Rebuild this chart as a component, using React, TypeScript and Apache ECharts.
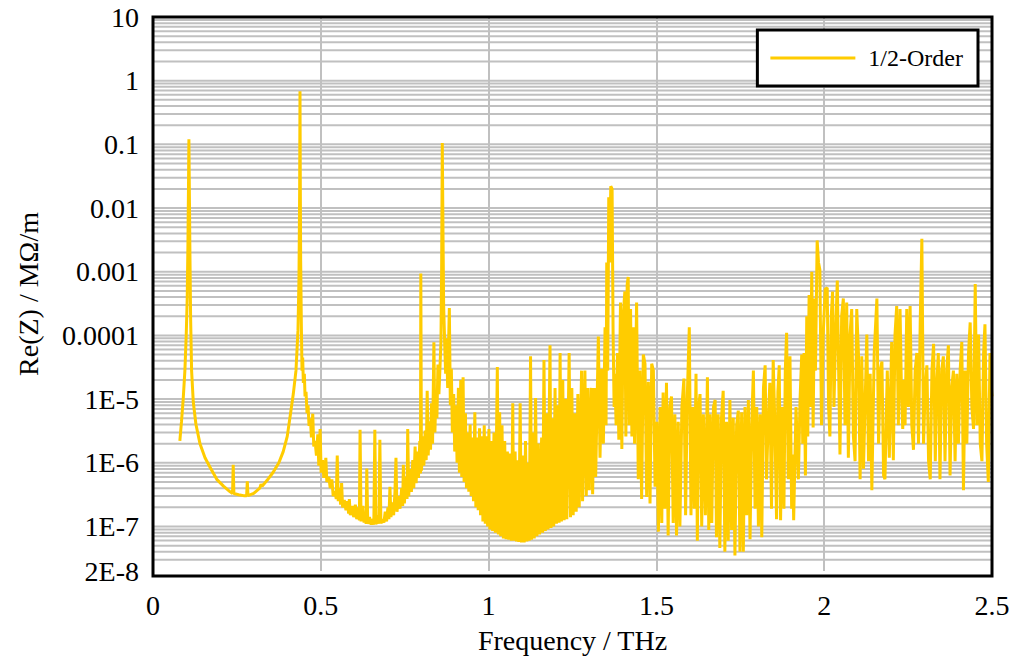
import React, { useEffect, useRef } from "react";
import * as echarts from "echarts";

const FONT = "Liberation Serif, Times New Roman, serif";
const LINE_COLOR = "#ffcc00";
const GRID_COLOR = "#c0c0c0";

const seriesName = "1/2-Order";
const xTicks = [0, 0.5, 1, 1.5, 2, 2.5];
const yDecades = [1e-7, 1e-6, 1e-5, 1e-4, 1e-3, 1e-2, 1e-1, 1];
const yMantissas = [2, 3, 4, 5, 6, 7, 8, 9];

// first two resonances (smooth)
const segA: number[][] = [
  [0.080, 2.2e-6], [0.085, 4.5e-6], [0.090, 1.0e-5], [0.095, 2.8e-5], [0.099, 1.0e-4],
  [0.102, 4.0e-4], [0.104, 2.5e-3], [0.106, 0.03], [0.107, 0.12], [0.108, 0.03],
  [0.110, 2.0e-3], [0.112, 2.0e-4], [0.115, 2.8e-5], [0.120, 9.0e-6], [0.128, 4.0e-6],
  [0.140, 2.0e-6], [0.155, 1.2e-6], [0.170, 8.5e-7], [0.190, 5.5e-7], [0.210, 4.3e-7],
  [0.230, 3.5e-7], [0.237, 3.3e-7], [0.239, 9.3e-7], [0.241, 3.3e-7], [0.255, 3.15e-7],
  [0.270, 3.05e-7], [0.279, 3.05e-7], [0.281, 5.1e-7], [0.283, 3.05e-7], [0.300, 3.3e-7],
  [0.318, 4.0e-7], [0.322, 4.6e-7], [0.325, 4.3e-7], [0.340, 5.3e-7], [0.358, 7.1e-7],
  [0.375, 1.0e-6], [0.388, 1.5e-6], [0.400, 2.6e-6], [0.408, 5.1e-6], [0.418, 1.2e-5],
  [0.426, 2.8e-5], [0.432, 1.2e-4], [0.435, 8e-4], [0.437, 0.02], [0.438, 0.68],
];

// 0.44 - 0.86 THz
const segB: number[][] = [
  [0.439, 0.02], [0.440, 1.5e-3], [0.442, 1.5e-4], [0.444, 2.8e-5], [0.446, 4.5e-5],
  [0.448, 1.8e-5], [0.451, 2.5e-5], [0.453, 1.1e-5], [0.456, 1.3e-5], [0.459, 6e-6],
  [0.462, 8e-6], [0.465, 3.8e-6], [0.469, 5e-6], [0.472, 2.5e-6], [0.476, 5.9e-6],
  [0.479, 1.8e-6], [0.483, 2.2e-6], [0.487, 1.3e-6], [0.491, 2.8e-6], [0.494, 9e-7],
  [0.498, 3.4e-6], [0.501, 7e-7], [0.505, 1.1e-6], [0.509, 5.8e-7], [0.512, 7.5e-7],
  [0.515, 1.2e-6], [0.518, 5e-7], [0.524, 6e-7], [0.528, 4e-7], [0.533, 5.5e-7],
  [0.537, 3e-7], [0.542, 3.6e-7], [0.546, 2.7e-7], [0.549, 1.3e-6], [0.552, 2.5e-7],
  [0.556, 4e-7], [0.559, 2.2e-7], [0.562, 4.8e-7], [0.565, 2.0e-7], [0.570, 2.6e-7],
  [0.575, 1.8e-7], [0.579, 2.5e-7], [0.583, 1.6e-7], [0.585, 2.7e-7], [0.588, 1.5e-7],
  [0.594, 2.1e-7], [0.598, 1.4e-7], [0.603, 2.2e-7], [0.607, 1.3e-7], [0.612, 2e-7],
  [0.615, 1.25e-7], [0.617, 3.3e-6], [0.620, 1.2e-7], [0.625, 2.1e-7], [0.629, 1.15e-7],
  [0.633, 1.6e-7], [0.635, 1.1e-7], [0.637, 8.1e-7], [0.640, 1.1e-7], [0.645, 1.4e-7],
  [0.650, 1.07e-7], [0.655, 1.3e-7], [0.658, 1.07e-7], [0.661, 3.3e-6], [0.664, 1.08e-7],
  [0.669, 1.5e-7], [0.673, 1.1e-7], [0.676, 2.3e-6], [0.679, 1.12e-7], [0.684, 1.3e-7],
  [0.688, 1.15e-7], [0.692, 1.7e-7], [0.696, 1.2e-7], [0.700, 2.0e-7], [0.703, 1.3e-7],
  [0.706, 4.2e-7], [0.709, 1.4e-7], [0.713, 2.4e-7], [0.717, 1.5e-7], [0.721, 3.5e-7],
  [0.724, 1.2e-6], [0.727, 1.7e-7], [0.732, 3e-7], [0.736, 1.9e-7], [0.741, 4e-7],
  [0.744, 2.1e-7], [0.746, 9.3e-7], [0.749, 2.3e-7], [0.754, 6e-7], [0.757, 2.7e-7],
  [0.759, 3.4e-6], [0.762, 3e-7], [0.766, 8e-7], [0.770, 3.5e-7], [0.774, 1.1e-6],
  [0.777, 4e-7], [0.781, 1.8e-6], [0.784, 4.8e-7], [0.788, 1.5e-6], [0.791, 5.8e-7],
  [0.795, 2.2e-6], [0.797, 6.8e-7], [0.798, 9.4e-4], [0.800, 7.5e-7], [0.804, 2.6e-6],
  [0.807, 9e-7], [0.811, 3.2e-6], [0.814, 1.1e-6], [0.817, 1.35e-5], [0.820, 1.3e-6],
  [0.824, 4.5e-6], [0.827, 1.6e-6], [0.830, 8.6e-6], [0.833, 2e-6], [0.837, 7.8e-5],
  [0.840, 3e-6], [0.843, 1.3e-5], [0.846, 5e-6], [0.849, 3.5e-5], [0.852, 1.2e-5],
  [0.855, 3e-5], [0.858, 8e-5], [0.860, 1e-3], [0.862, 0.105],
];

// 0.86 - 1.34 THz
const segC: number[][] = [
  [0.864, 5e-3], [0.866, 3e-4], [0.869, 8e-5], [0.872, 2.5e-5], [0.875, 9e-5],
  [0.878, 1.5e-5], [0.883, 2.7e-4], [0.886, 8e-6], [0.889, 3e-5], [0.892, 3e-6],
  [0.896, 1.2e-5], [0.899, 1.5e-6], [0.903, 8e-6], [0.906, 1e-6], [0.910, 1.5e-5],
  [0.913, 7e-7], [0.917, 2e-5], [0.920, 6e-7], [0.924, 2.2e-5], [0.927, 5e-7],
  [0.931, 6e-6], [0.934, 4e-7], [0.938, 3e-6], [0.941, 3.5e-7], [0.945, 4e-6],
  [0.948, 3e-7], [0.952, 2.5e-6], [0.955, 2.5e-7], [0.959, 6.2e-6], [0.962, 2e-7],
  [0.966, 2.5e-6], [0.969, 1.8e-7], [0.973, 3.5e-6], [0.976, 1.5e-7], [0.980, 2.6e-6],
  [0.983, 1.2e-7], [0.987, 3.9e-6], [0.990, 1.1e-7], [0.994, 2.6e-6], [0.997, 1e-7],
  [1.001, 3.4e-6], [1.004, 9e-8], [1.008, 2.2e-6], [1.012, 8.5e-8], [1.016, 3e-6],
  [1.020, 8e-8], [1.026, 3.2e-5], [1.029, 7.5e-8], [1.033, 6.2e-6], [1.036, 7e-8],
  [1.040, 3.9e-6], [1.044, 6.5e-8], [1.048, 2.2e-6], [1.052, 6.3e-8], [1.056, 1.5e-6],
  [1.060, 6.2e-8], [1.065, 1.4e-6], [1.068, 6e-8], [1.072, 8.6e-6], [1.075, 6e-8],
  [1.079, 1.5e-6], [1.083, 5.8e-8], [1.087, 1.1e-6], [1.090, 5.7e-8], [1.094, 8.6e-6],
  [1.098, 5.6e-8], [1.102, 1.3e-6], [1.106, 5.6e-8], [1.110, 2.2e-6], [1.114, 5.8e-8],
  [1.118, 1e-6], [1.121, 6e-8], [1.125, 4.7e-5], [1.128, 6.2e-8], [1.132, 3e-6],
  [1.136, 6.5e-8], [1.140, 1.04e-5], [1.144, 7e-8], [1.148, 2e-6], [1.152, 7.5e-8],
  [1.158, 2.5e-6], [1.161, 8e-8], [1.165, 4.1e-5], [1.169, 8.5e-8], [1.173, 6e-6],
  [1.177, 9e-8], [1.183, 7e-5], [1.186, 9.5e-8], [1.190, 5e-6], [1.194, 1e-7],
  [1.198, 1.5e-5], [1.202, 1.1e-7], [1.207, 8e-6], [1.210, 1.15e-7], [1.213, 5.3e-5],
  [1.217, 1.2e-7], [1.221, 2e-5], [1.225, 1.25e-7], [1.229, 1e-5], [1.233, 1.3e-7],
  [1.240, 5.3e-5], [1.244, 1.4e-7], [1.248, 1.5e-5], [1.252, 1.5e-7], [1.257, 6e-6],
  [1.261, 1.7e-7], [1.266, 1.2e-5], [1.270, 2e-7], [1.277, 2.8e-5], [1.280, 2.5e-7],
  [1.287, 2.8e-5], [1.291, 3e-7], [1.296, 1.5e-5], [1.300, 3.7e-7], [1.306, 1.5e-5],
  [1.310, 3.2e-7], [1.315, 1.5e-5], [1.319, 6e-7], [1.327, 9.6e-5], [1.332, 1.2e-6],
  [1.337, 3e-5],
];

// 1.34 - 1.75 THz (main high-frequency resonance)
const segD: number[][] = [
  [1.342, 2e-6], [1.347, 1.34e-4], [1.350, 3.9e-6], [1.352, 1.4e-3], [1.355, 2.8e-5],
  [1.358, 0.0148], [1.361, 1.4e-3], [1.364, 0.022], [1.368, 0.02], [1.371, 1.03e-4],
  [1.374, 7.5e-6], [1.376, 2.5e-5], [1.380, 3.9e-6], [1.384, 5.3e-5], [1.388, 2.3e-6],
  [1.393, 3.3e-4], [1.397, 1.65e-6], [1.401, 2e-4], [1.406, 4.9e-4], [1.409, 2.6e-6],
  [1.413, 6.4e-4], [1.416, 8.3e-4], [1.419, 3.9e-6], [1.423, 2.6e-4], [1.427, 2.6e-6],
  [1.431, 1.34e-4], [1.435, 2e-6], [1.441, 3.3e-4], [1.446, 5.5e-7], [1.451, 2.8e-5],
  [1.456, 2.7e-7], [1.461, 5e-5], [1.466, 3.6e-5], [1.471, 2.9e-7], [1.476, 1.88e-5],
  [1.481, 2.3e-7], [1.486, 3.6e-5], [1.491, 2.8e-5], [1.496, 4.2e-7], [1.501, 4.4e-6],
  [1.506, 8.3e-8], [1.511, 7.5e-6], [1.516, 1.14e-7], [1.520, 1.27e-5], [1.525, 1.9e-7],
  [1.530, 1.8e-5], [1.535, 7.2e-8], [1.540, 7.5e-6], [1.545, 1.1e-5], [1.550, 1.14e-7],
  [1.555, 5.8e-6], [1.560, 7.2e-8], [1.565, 4.4e-6], [1.570, 1e-7], [1.576, 7.5e-6],
  [1.582, 2.1e-5], [1.587, 1.5e-7], [1.592, 1.1e-5], [1.598, 1.34e-4], [1.603, 1.5e-7],
  [1.608, 7.5e-6], [1.613, 1.9e-7], [1.618, 2.5e-5], [1.622, 6e-8], [1.626, 7.5e-6],
  [1.630, 1.2e-5], [1.635, 1e-7], [1.640, 5.8e-6], [1.646, 1.5e-7], [1.652, 2.2e-5],
  [1.656, 8.8e-8], [1.660, 5.8e-6], [1.665, 1.14e-7], [1.670, 7.5e-6], [1.675, 9.7e-6],
  [1.679, 6.8e-8], [1.684, 5.8e-6], [1.689, 4.6e-8], [1.694, 5.1e-6], [1.699, 1.35e-5],
  [1.704, 4e-8], [1.709, 4.4e-6], [1.714, 6e-8], [1.719, 9.7e-6], [1.724, 8.8e-8],
  [1.729, 5.1e-6], [1.734, 3.5e-8], [1.739, 3.9e-6], [1.744, 6.6e-6], [1.749, 4e-8],
];

// 1.75 - 2.5 THz
const segE: number[][] = [
  [1.754, 6.2e-6], [1.759, 4e-8], [1.764, 7.5e-6], [1.769, 1.5e-7], [1.774, 9.7e-6],
  [1.779, 6.3e-8], [1.784, 3.9e-6], [1.789, 2.8e-5], [1.794, 1.9e-7], [1.799, 7.5e-6],
  [1.804, 1e-7], [1.809, 5.8e-6], [1.814, 6.8e-8], [1.819, 1.5e-5], [1.824, 3.4e-5],
  [1.828, 5.5e-7], [1.833, 3.9e-6], [1.838, 1.8e-5], [1.843, 1.9e-7], [1.848, 4.1e-5],
  [1.853, 3.9e-6], [1.858, 1.3e-7], [1.862, 1.3e-5], [1.866, 3.4e-5], [1.870, 1.25e-7],
  [1.875, 7.5e-6], [1.880, 1.9e-7], [1.884, 2.8e-5], [1.888, 1.1e-4], [1.893, 5.5e-7],
  [1.898, 4.7e-5], [1.903, 1.9e-7], [1.906, 1.35e-6], [1.909, 1.25e-7], [1.916, 7.5e-6],
  [1.923, 5.5e-7], [1.928, 9.7e-6], [1.933, 5e-5], [1.936, 2e-6], [1.940, 5.3e-5],
  [1.944, 6.3e-7], [1.948, 2e-4], [1.951, 2.6e-6], [1.955, 4.3e-4], [1.958, 7.5e-6],
  [1.963, 1e-3], [1.967, 3.6e-6], [1.971, 3.8e-4], [1.974, 2.8e-5], [1.979, 3.1e-3],
  [1.983, 1.4e-3], [1.987, 1.08e-3], [1.992, 3.9e-6], [1.997, 1.03e-4], [2.003, 5.3e-4],
  [2.009, 5.6e-4], [2.013, 7.5e-6], [2.017, 2.6e-6], [2.021, 2e-4], [2.025, 4.9e-4],
  [2.029, 7.5e-6], [2.034, 1.03e-4], [2.039, 7.3e-4], [2.043, 2.8e-5], [2.047, 1.35e-6],
  [2.052, 2e-4], [2.057, 3.8e-4], [2.062, 3.9e-6], [2.067, 3.3e-4], [2.072, 1.2e-6],
  [2.077, 1.03e-4], [2.082, 2.6e-4], [2.087, 2.6e-6], [2.092, 1.06e-6], [2.097, 2.6e-4],
  [2.102, 5.3e-5], [2.107, 5.5e-7], [2.112, 4.7e-5], [2.117, 8.1e-7], [2.127, 1.03e-4],
  [2.132, 1.06e-6], [2.137, 2.5e-5], [2.142, 3.7e-7], [2.149, 5.3e-5], [2.157, 3.8e-4],
  [2.162, 2e-6], [2.167, 2.8e-5], [2.172, 3.9e-5], [2.177, 6.3e-7], [2.181, 5.5e-7],
  [2.188, 2.8e-5], [2.194, 1.2e-6], [2.201, 7.9e-5], [2.206, 1.1e-6], [2.211, 1.03e-4],
  [2.216, 2.9e-4], [2.221, 3.9e-6], [2.226, 2.6e-4], [2.230, 1.5e-5], [2.234, 3.4e-6],
  [2.238, 2e-5], [2.241, 3.9e-6], [2.246, 2.6e-4], [2.251, 7.5e-6], [2.256, 2.9e-4],
  [2.261, 3.9e-6], [2.266, 1.6e-6], [2.271, 2.8e-5], [2.276, 5.3e-5], [2.281, 2e-6],
  [2.286, 1.5e-4], [2.291, 3.3e-3], [2.296, 2e-6], [2.301, 1.5e-5], [2.306, 3.4e-5],
  [2.311, 1.06e-6], [2.316, 5.5e-7], [2.321, 2.8e-5], [2.326, 7.4e-5], [2.331, 1.06e-6],
  [2.335, 1.5e-5], [2.340, 5.3e-5], [2.345, 5.5e-7], [2.350, 2.8e-5], [2.355, 4.7e-5],
  [2.360, 1.06e-6], [2.365, 2.8e-5], [2.370, 7e-5], [2.375, 6.3e-7], [2.380, 1.5e-5],
  [2.385, 2.8e-5], [2.390, 1.06e-6], [2.395, 2.5e-5], [2.400, 2e-6], [2.405, 2.8e-5],
  [2.410, 7.9e-5], [2.415, 3.7e-7], [2.420, 2.8e-5], [2.425, 2e-6], [2.430, 5.3e-5],
  [2.435, 1.6e-4], [2.440, 7.5e-6], [2.445, 3.4e-6], [2.450, 6.4e-4], [2.455, 3.9e-6],
  [2.460, 1.03e-4], [2.465, 2e-6], [2.470, 1.06e-6], [2.475, 5.3e-5], [2.479, 1.5e-4],
  [2.484, 2e-6], [2.489, 5e-7], [2.494, 5.3e-5], [2.499, 1.27e-5], [2.500, 1.1e-5],
];

const seriesData = [...segA, ...segB, ...segC, ...segD, ...segE];

// horizontal grid values: decades plus 2..9 multiples (from 3e-8 upward)
const hGridValues: number[] = [];
[1e-8, ...yDecades].forEach((d) => {
  if (d >= 1e-7) hGridValues.push(d);
  yMantissas.forEach((m) => {
    const v = m * d;
    if (v > 2.5e-8 && v < 9.99) hGridValues.push(v);
  });
});

function formatY(v: number): string {
  const e = Math.floor(Math.log10(v) + 1e-9);
  const m = Math.round(v / Math.pow(10, e));
  if (e >= -4) return String(Number((m * Math.pow(10, e)).toPrecision(3)));
  return `${m}E${e}`;
}

export default function App() {
  const ref = useRef<HTMLDivElement>(null);
  useEffect(() => {
    if (!ref.current) return;
    const chart = echarts.init(ref.current, undefined, { renderer: "svg" });
    const gl = 153, gt = 17, gw = 839, gh = 559;
    chart.setOption({
      animation: false,
      backgroundColor: "#ffffff",
      textStyle: { fontFamily: FONT },
      grid: { left: gl, top: gt, width: gw, height: gh, containLabel: false },
      legend: {
        data: [{ name: seriesName, icon: "rect" }],
        right: 35,
        top: 30,
        selectedMode: false,
        itemWidth: 85,
        itemHeight: 3,
        padding: [16, 15, 16, 13],
        borderColor: "#000",
        borderWidth: 3,
        backgroundColor: "#fff",
        itemStyle: { color: LINE_COLOR, borderWidth: 0 },
        textStyle: { fontFamily: FONT, fontSize: 24, color: "#000", padding: [0, 0, 0, 8] },
      },
      xAxis: {
        type: "value",
        min: xTicks[0],
        max: xTicks[xTicks.length - 1],
        interval: 0.5,
        name: "Frequency / THz",
        nameLocation: "middle",
        nameGap: 55,
        nameTextStyle: { fontFamily: FONT, fontSize: 28, color: "#000" },
        axisLine: { show: false },
        axisTick: { show: false },
        axisLabel: { fontFamily: FONT, fontSize: 28, color: "#000", margin: 20 },
        splitLine: {
          show: true,
          showMinLine: false,
          showMaxLine: false,
          lineStyle: { color: GRID_COLOR, width: 2 },
        },
      },
      yAxis: {
        type: "log",
        logBase: 10,
        min: 2e-8,
        max: 10,
        name: "Re(Z) / MΩ/m",
        nameLocation: "middle",
        nameGap: 111,
        nameTextStyle: { fontFamily: FONT, fontSize: 28, color: "#000" },
        axisLine: { show: false },
        axisTick: { show: false },
        axisLabel: { fontFamily: FONT, fontSize: 28, color: "#000", margin: 14, formatter: formatY },
        splitLine: { show: false },
        minorTick: { show: false },
        minorSplitLine: { show: false },
      },
      graphic: [
        {
          type: "rect",
          silent: true,
          z: 100,
          shape: { x: gl, y: gt, width: gw, height: gh },
          style: { fill: "transparent", stroke: "#000", lineWidth: 3 },
        },
      ],
      series: [
        {
          type: "custom",
          name: "grid",
          silent: true,
          z: 1,
          data: hGridValues.map((v) => [0, v]),
          encode: { x: 0, y: 1 },
          renderItem: (params: any, api: any) => {
            const v = api.value(1);
            const p = api.coord([0, v]);
            const cs = params.coordSys;
            return {
              type: "line",
              shape: { x1: cs.x, y1: p[1], x2: cs.x + cs.width, y2: p[1] },
              style: { stroke: GRID_COLOR, lineWidth: 2 },
              silent: true,
            };
          },
        },
        {
          type: "line",
          name: seriesName,
          data: seriesData,
          symbol: "none",
          showSymbol: false,
          z: 3,
          clip: true,
          lineStyle: { color: LINE_COLOR, width: 3 },
          itemStyle: { color: LINE_COLOR },
        },
      ],
    });
    return () => chart.dispose();
  }, []);
  return (
    <div
      ref={ref}
      style={{ position: "fixed", left: 0, top: 0, width: 1013, height: 659, background: "#fff" }}
    />
  );
}
